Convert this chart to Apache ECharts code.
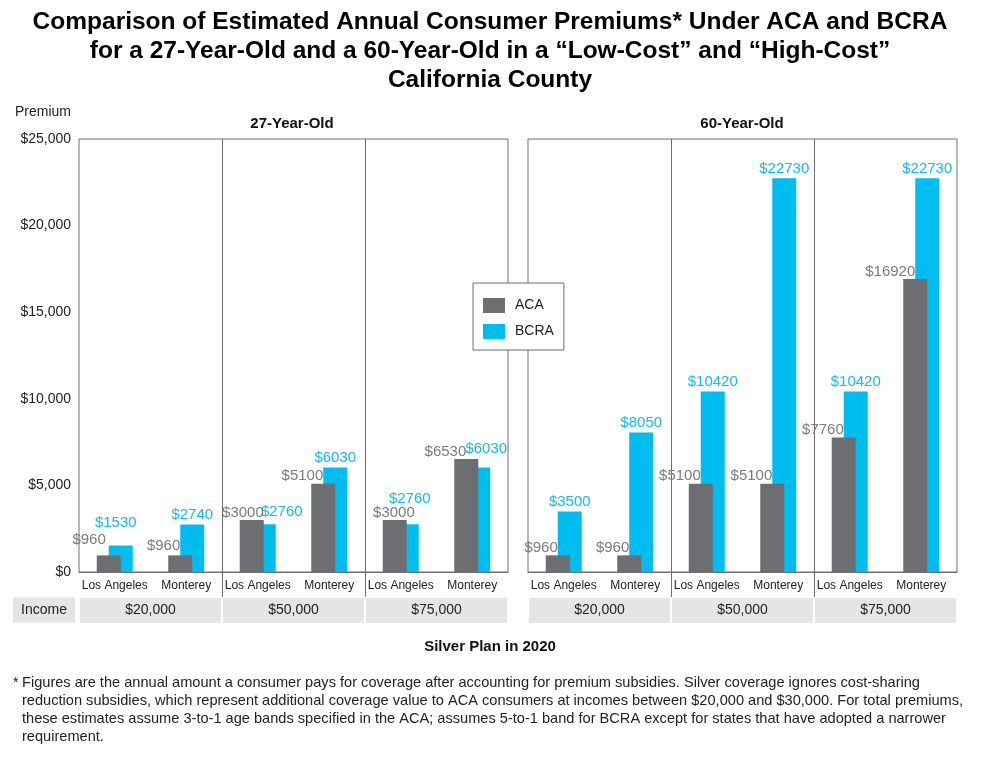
<!DOCTYPE html>
<html><head><meta charset="utf-8">
<script src="https://cdn.jsdelivr.net/npm/echarts@6/dist/echarts.min.js"></script>
<style>html,body{margin:0;padding:0;background:#fff}#c{width:981px;height:759px}</style>
</head><body><div id="c"></div>
<script>
// ---- data ----
const counties = ['Los Angeles', 'Monterey', 'Los Angeles', 'Monterey', 'Los Angeles', 'Monterey'];
const incomes = ['$20,000', '$50,000', '$75,000'];
const yTicks = [0, 5000, 10000, 15000, 20000, 25000];
const aca27 = [960, 960, 3000, 5100, 3000, 6530];
const bcra27 = [1530, 2740, 2760, 6030, 2760, 6030];
const aca60 = [960, 960, 5100, 5100, 7760, 16920];
const bcra60 = [3500, 8050, 10420, 22730, 10420, 22730];
const panelTitles = ['27-Year-Old', '60-Year-Old'];
const titleLines = [
  'Comparison of Estimated Annual Consumer Premiums* Under ACA and BCRA',
  'for a 27-Year-Old and a 60-Year-Old in a \u201cLow-Cost\u201d and \u201cHigh-Cost\u201d',
  'California County'
];
const footLines = [
  'Figures are the annual amount a consumer pays for coverage after accounting for premium subsidies. Silver coverage ignores cost-sharing',
  'reduction subsidies, which represent additional coverage value to ACA consumers at incomes between $20,000 and $30,000. For total premiums,',
  'these estimates assume 3-to-1 age bands specified in the ACA; assumes 5-to-1 band for BCRA except for states that have adopted a narrower',
  'requirement.'
];
// helper boundaries for income-group dividers (layout only)
const groupEdges = ['e0', 'e1', 'e2', 'e3'];

// ---- label nudges (styling only) ----
const acaNudge27 = [[-3, -8], [0, -2], [12, 0], [0, 0], [20, 0], [0, 0]];
const bcraNudge27 = [[-5, -13], [0, 0], [18, -3], [0, 0], [3, -16], [8, -9]];
const noNudge = [[0, 0], [0, 0], [0, 0], [0, 0], [0, 0], [0, 0]];

const FONT = '"Liberation Sans", Arial, Helvetica, sans-serif';
const GRAY = '#6d6e71', BLUE = '#00bdf0';
const GRAY_LBL = '#7b7b7b', BLUE_LBL = '#16b9ec';
const LINE = '#6e6e6e';
const innerEdge = i => i === 1 || i === 2;

function barSeries(name, vals, nudges, isAca, panel) {
  return {
    name: name, type: 'bar', xAxisIndex: panel * 3, yAxisIndex: panel,
    barWidth: 24, barGap: '-50%', z: isAca ? 4 : 3,
    itemStyle: { color: isAca ? GRAY : BLUE },
    label: isAca ? {
      show: true, position: ['50%', 0], align: 'right', verticalAlign: 'bottom',
      fontSize: 15, lineHeight: 15, color: GRAY_LBL, fontFamily: FONT,
      formatter: p => '$' + p.value
    } : {
      show: true, position: 'top', distance: 2,
      fontSize: 15, lineHeight: 15, color: BLUE_LBL, fontFamily: FONT,
      formatter: p => '$' + p.value
    },
    data: vals.map((v, i) => ({ value: v, label: { offset: nudges[i] } }))
  };
}

function countyAxis(g) {
  return {
    gridIndex: g, type: 'category', data: counties,
    axisLine: { lineStyle: { color: LINE } },
    axisTick: { show: false },
    splitLine: { show: false },
    axisLabel: { interval: 0, fontSize: 12, color: '#222', margin: 8, fontFamily: FONT }
  };
}
function incomeAxis(g) {
  return {
    gridIndex: g, type: 'category', data: incomes, position: 'bottom',
    axisLine: { show: false }, axisTick: { show: false }, splitLine: { show: false },
    axisLabel: {
      interval: 0, margin: 26, fontSize: 14, color: '#222', fontFamily: FONT,
      backgroundColor: '#e5e5e6', width: 141, height: 25, lineHeight: 25, align: 'center'
    }
  };
}
function dividerAxis(g) {
  return {
    gridIndex: g, type: 'category', data: groupEdges, position: 'bottom', boundaryGap: false,
    axisLine: { show: false },
    axisTick: { show: true, interval: innerEdge, length: 25, lineStyle: { color: LINE } },
    splitLine: { show: true, interval: innerEdge, lineStyle: { color: LINE } },
    axisLabel: { show: false }
  };
}
function yAxis(g, showLabels) {
  return {
    gridIndex: g, type: 'value', min: yTicks[0], max: yTicks[yTicks.length - 1],
    interval: yTicks[1] - yTicks[0],
    axisLine: { show: false }, axisTick: { show: false }, splitLine: { show: false },
    axisLabel: {
      show: showLabels, fontSize: 14, color: '#222', margin: 8, fontFamily: FONT,
      formatter: v => '$' + v.toLocaleString('en-US')
    }
  };
}

function txt(x, y, text, font, align, fill, extra) {
  return {
    type: 'text', x: x, y: y, z: 10,
    style: Object.assign({ text: text, font: font, fill: fill || '#111', align: align, textAlign: align,
      verticalAlign: 'middle', textVerticalAlign: 'middle' }, extra || {})
  };
}

const graphics = [];
titleLines.forEach((t, i) => graphics.push(txt(490, 22 + i * 29, t, 'bold 24.5px ' + FONT, 'center', '#000')));
graphics.push(txt(15, 112, 'Premium', '14px ' + FONT, 'left', '#222'));
graphics.push(txt(292, 124, panelTitles[0], 'bold 15px ' + FONT, 'center', '#111'));
graphics.push(txt(742, 124, panelTitles[1], 'bold 15px ' + FONT, 'center', '#111'));
graphics.push(txt(44, 610, 'Income', '14px ' + FONT, 'center', '#222',
  { backgroundColor: '#e5e5e6', width: 62, height: 25, lineHeight: 25 }));
graphics.push(txt(490, 647, 'Silver Plan in 2020', 'bold 15px ' + FONT, 'center', '#111'));
graphics.push(txt(13, 683, '*', '14px ' + FONT, 'left', '#222'));
footLines.forEach((t, i) => graphics.push(txt(22, 683 + i * 18, t, '14.6px ' + FONT, 'left', '#222')));

const chart = echarts.init(document.getElementById('c'), null, { renderer: 'canvas' });
chart.setOption({
  animation: false,
  backgroundColor: '#fff',
  textStyle: { fontFamily: FONT },
  grid: [
    { left: 79, right: 473, top: 139, bottom: 187, show: true, borderColor: LINE, borderWidth: 1 },
    { left: 528, right: 24, top: 139, bottom: 187, show: true, borderColor: LINE, borderWidth: 1 }
  ],
  legend: {
    orient: 'vertical', left: 473, top: 283, data: ['ACA', 'BCRA'],
    icon: 'rect', itemWidth: 22, itemHeight: 15, itemGap: 11,
    padding: [15, 10, 11, 10], borderColor: LINE, borderWidth: 1, backgroundColor: '#fff',
    textStyle: { fontSize: 14, color: '#222', fontFamily: FONT, padding: [0, 0, 0, 5] }, z: 8
  },
  xAxis: [countyAxis(0), incomeAxis(0), dividerAxis(0), countyAxis(1), incomeAxis(1), dividerAxis(1)],
  yAxis: [yAxis(0, true), yAxis(1, false)],
  series: [
    barSeries('ACA', aca27, acaNudge27, true, 0),
    barSeries('BCRA', bcra27, bcraNudge27, false, 0),
    barSeries('ACA', aca60, noNudge, true, 1),
    barSeries('BCRA', bcra60, noNudge, false, 1)
  ],
  graphic: graphics
});
</script>
</body></html>
